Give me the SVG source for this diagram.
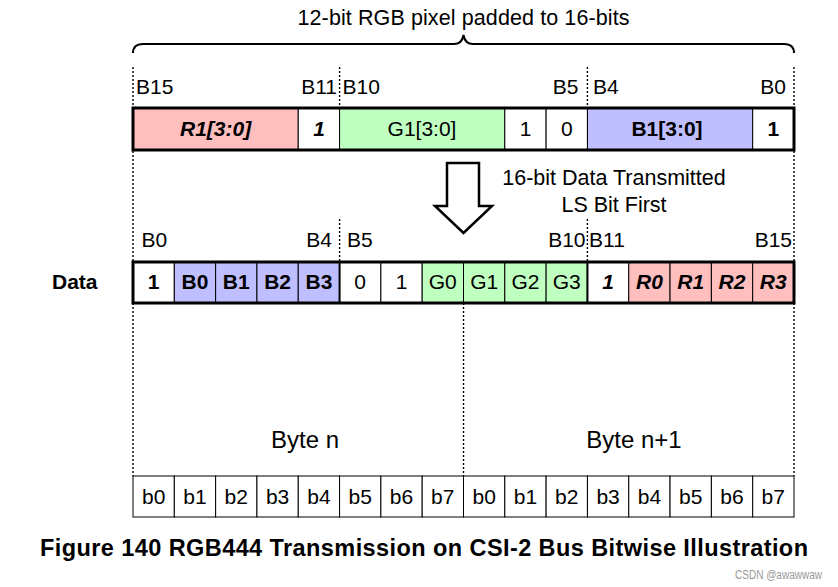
<svg xmlns="http://www.w3.org/2000/svg" width="838" height="587" viewBox="0 0 838 587">
<style>
.t{font-family:"Liberation Sans",Arial,Helvetica,sans-serif;font-size:21px;fill:#000}
.big{font-size:21.5px}
.byte{font-size:24px}
.cap{font-size:23.5px}
.wm{font-size:12px;fill:#999}
.m{text-anchor:middle}
.e{text-anchor:end}
.b{font-weight:bold}
.i{font-style:italic}
.c{stroke:#000;stroke-width:1}
.w{fill:#fff}
.pk{fill:#ffbfbf}
.gr{fill:#bfffbf}
.lv{fill:#bfbfff}
.frame{fill:none;stroke:#000;stroke-width:3}
.guide{fill:none;stroke:#000;stroke-width:1.4;stroke-dasharray:2 2}
</style>
<rect width="838" height="587" fill="#fff"/>

<g id="connectors">
  <path class="guide" d="M133,67V476 M794,67V476 M339.6,67V108 M587.4,67V108 M339.6,219V262 M587.4,219V262 M463.5,303V476"/>
  <path id="brace" d="M133,53 Q133,44 143,44 L454,44 Q462,44 463.5,35 Q465,44 473,44 L784,44 Q794,44 794,53" fill="none" stroke="#000" stroke-width="2"/>
  <polygon id="arrow" points="447,163 479,163 479,206 492,206 463.5,233 435,206 447,206" fill="#fff" stroke="#000" stroke-width="2.5" stroke-linejoin="miter"/>
</g>

<g id="title">
  <text class="t big m" x="463.5" y="25" textLength="332">12-bit RGB pixel padded to 16-bits</text>
</g>

<g id="top-labels">
  <text class="t" x="136" y="94">B15</text>
  <text class="t e" x="337" y="94">B11</text>
  <text class="t" x="342.5" y="94">B10</text>
  <text class="t e" x="578.5" y="94">B5</text>
  <text class="t" x="593" y="94">B4</text>
  <text class="t e" x="786" y="94">B0</text>
</g>

<g id="pixel16">
  <rect class="c pk" x="133" y="108" width="165.25" height="42"/>
  <rect class="c w" x="298.25" y="108" width="41.31" height="42"/>
  <rect class="c gr" x="339.56" y="108" width="165.25" height="42"/>
  <rect class="c w" x="504.81" y="108" width="41.31" height="42"/>
  <rect class="c w" x="546.13" y="108" width="41.31" height="42"/>
  <rect class="c lv" x="587.44" y="108" width="165.25" height="42"/>
  <rect class="c w" x="752.69" y="108" width="41.31" height="42"/>
  <rect class="frame" x="133" y="108" width="661" height="42"/>
  <text class="t m b i" x="215.6" y="136">R1[3:0]</text>
  <text class="t m b i" x="319" y="136">1</text>
  <text class="t m" x="422" y="136">G1[3:0]</text>
  <text class="t m" x="525.5" y="136">1</text>
  <text class="t m" x="566.8" y="136">0</text>
  <text class="t m b" x="667" y="136">B1[3:0]</text>
  <text class="t m b" x="773.3" y="136">1</text>
</g>

<g id="tx-note">
  <text class="t big m" x="614" y="185">16-bit Data Transmitted</text>
  <text class="t big m" x="614" y="211.5">LS Bit First</text>
</g>

<g id="data-labels">
  <text class="t" x="141.5" y="247">B0</text>
  <text class="t e" x="332" y="247">B4</text>
  <text class="t" x="347" y="247">B5</text>
  <text class="t e" x="585.5" y="247">B10</text>
  <text class="t" x="589" y="247">B11</text>
  <text class="t e" x="792" y="247">B15</text>
</g>

<g id="data-row">
  <text class="t b" x="52" y="289">Data</text>
  <rect class="c w" x="133" y="262" width="41.31" height="41"/>
  <rect class="c lv" x="174.31" y="262" width="41.31" height="41"/>
  <rect class="c lv" x="215.63" y="262" width="41.31" height="41"/>
  <rect class="c lv" x="256.94" y="262" width="41.31" height="41"/>
  <rect class="c lv" x="298.25" y="262" width="41.31" height="41"/>
  <rect class="c w" x="339.56" y="262" width="41.31" height="41"/>
  <rect class="c w" x="380.88" y="262" width="41.31" height="41"/>
  <rect class="c gr" x="422.19" y="262" width="41.31" height="41"/>
  <rect class="c gr" x="463.5" y="262" width="41.31" height="41"/>
  <rect class="c gr" x="504.81" y="262" width="41.31" height="41"/>
  <rect class="c gr" x="546.13" y="262" width="41.31" height="41"/>
  <rect class="c w" x="587.44" y="262" width="41.31" height="41"/>
  <rect class="c pk" x="628.75" y="262" width="41.31" height="41"/>
  <rect class="c pk" x="670.06" y="262" width="41.31" height="41"/>
  <rect class="c pk" x="711.38" y="262" width="41.31" height="41"/>
  <rect class="c pk" x="752.69" y="262" width="41.31" height="41"/>
  <rect class="frame" x="133" y="262" width="661" height="41"/>
  <path d="M339.56,262V303 M587.44,262V303" stroke="#000" stroke-width="2"/>
  <text class="t m b" x="153.7" y="289">1</text>
  <text class="t m b" x="195" y="289">B0</text>
  <text class="t m b" x="236.3" y="289">B1</text>
  <text class="t m b" x="277.6" y="289">B2</text>
  <text class="t m b" x="318.9" y="289">B3</text>
  <text class="t m" x="360.2" y="289">0</text>
  <text class="t m" x="401.5" y="289">1</text>
  <text class="t m" x="442.8" y="289">G0</text>
  <text class="t m" x="484.2" y="289">G1</text>
  <text class="t m" x="525.5" y="289">G2</text>
  <text class="t m" x="566.8" y="289">G3</text>
  <text class="t m b i" x="608.1" y="289">1</text>
  <text class="t m b i" x="649.4" y="289">R0</text>
  <text class="t m b i" x="690.7" y="289">R1</text>
  <text class="t m b i" x="732" y="289">R2</text>
  <text class="t m b i" x="773.3" y="289">R3</text>
</g>

<g id="byte-n">
  <text class="t byte m" x="305" y="448">Byte n</text>
  <rect class="c w" x="133" y="476" width="41.31" height="41"/>
  <rect class="c w" x="174.31" y="476" width="41.31" height="41"/>
  <rect class="c w" x="215.63" y="476" width="41.31" height="41"/>
  <rect class="c w" x="256.94" y="476" width="41.31" height="41"/>
  <rect class="c w" x="298.25" y="476" width="41.31" height="41"/>
  <rect class="c w" x="339.56" y="476" width="41.31" height="41"/>
  <rect class="c w" x="380.88" y="476" width="41.31" height="41"/>
  <rect class="c w" x="422.19" y="476" width="41.31" height="41"/>
  <text class="t m" x="153.7" y="504">b0</text>
  <text class="t m" x="195" y="504">b1</text>
  <text class="t m" x="236.3" y="504">b2</text>
  <text class="t m" x="277.6" y="504">b3</text>
  <text class="t m" x="318.9" y="504">b4</text>
  <text class="t m" x="360.2" y="504">b5</text>
  <text class="t m" x="401.5" y="504">b6</text>
  <text class="t m" x="442.8" y="504">b7</text>
</g>

<g id="byte-n1">
  <text class="t byte m" x="634" y="448">Byte n+1</text>
  <rect class="c w" x="463.5" y="476" width="41.31" height="41"/>
  <rect class="c w" x="504.81" y="476" width="41.31" height="41"/>
  <rect class="c w" x="546.13" y="476" width="41.31" height="41"/>
  <rect class="c w" x="587.44" y="476" width="41.31" height="41"/>
  <rect class="c w" x="628.75" y="476" width="41.31" height="41"/>
  <rect class="c w" x="670.06" y="476" width="41.31" height="41"/>
  <rect class="c w" x="711.38" y="476" width="41.31" height="41"/>
  <rect class="c w" x="752.69" y="476" width="41.31" height="41"/>
  <text class="t m" x="484.2" y="504">b0</text>
  <text class="t m" x="525.5" y="504">b1</text>
  <text class="t m" x="566.8" y="504">b2</text>
  <text class="t m" x="608.1" y="504">b3</text>
  <text class="t m" x="649.4" y="504">b4</text>
  <text class="t m" x="690.7" y="504">b5</text>
  <text class="t m" x="732" y="504">b6</text>
  <text class="t m" x="773.3" y="504">b7</text>
</g>

<g id="caption">
  <text class="t cap b" x="40" y="556" textLength="768">Figure 140 RGB444 Transmission on CSI-2 Bus Bitwise Illustration</text>
  <text class="t wm" x="735" y="579" textLength="87" lengthAdjust="spacingAndGlyphs">CSDN @awawwaw</text>
</g>
</svg>
